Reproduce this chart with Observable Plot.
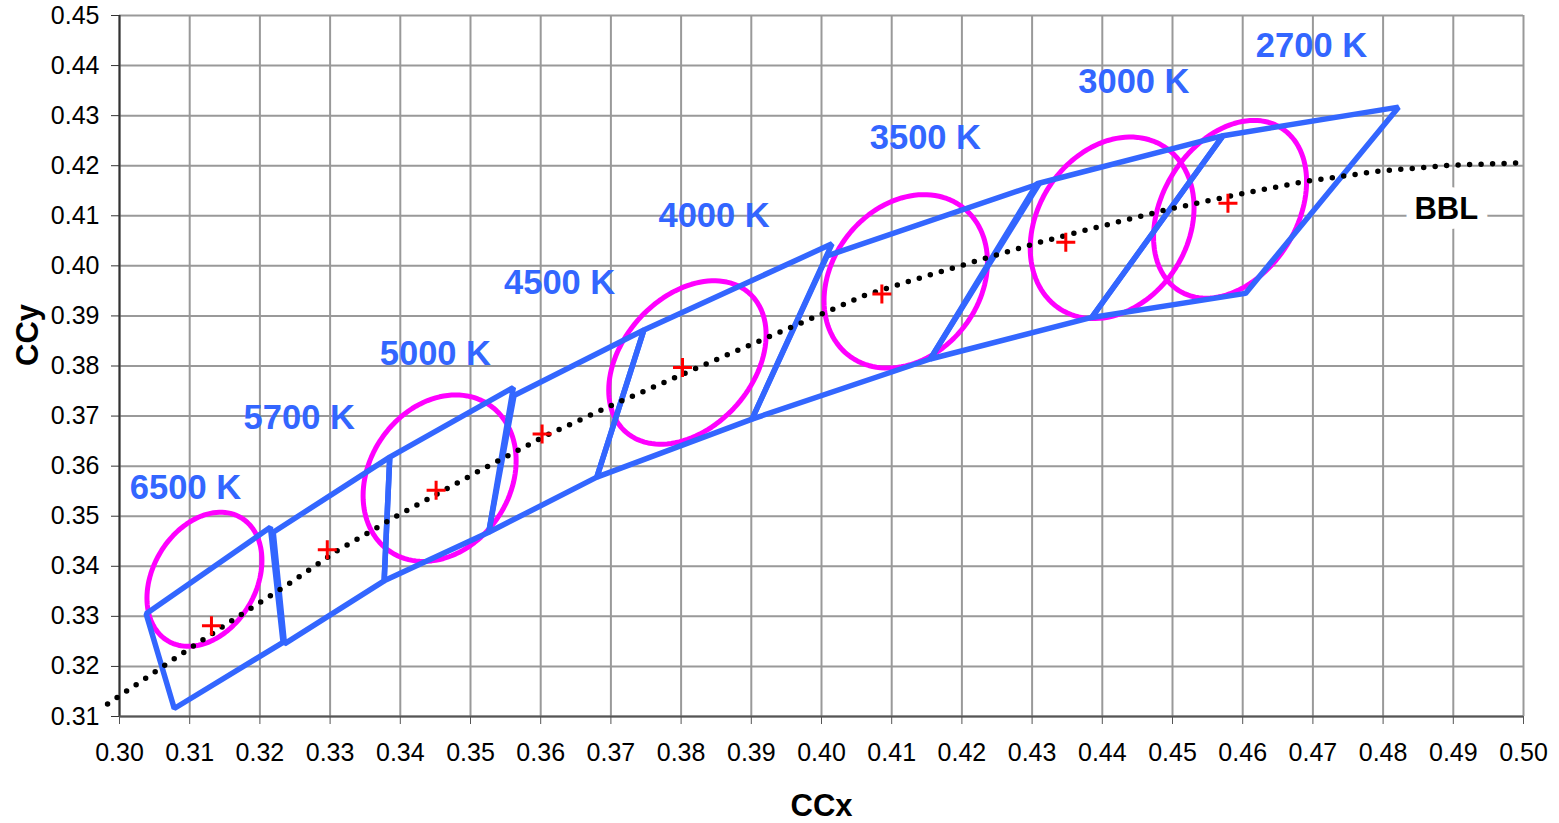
<!DOCTYPE html>
<html>
<head>
<meta charset="utf-8">
<script src="https://cdn.jsdelivr.net/npm/d3@7"></script>
<script src="https://cdn.jsdelivr.net/npm/@observablehq/plot@0.6"></script>
<style>
  html, body { margin: 0; padding: 0; background: #fff; }
  #chart { width: 1559px; height: 823px; }
</style>
</head>
<body>
<div id="chart"></div>
<script>
// ---- Tick labels ----
const xTicks = [0.30,0.31,0.32,0.33,0.34,0.35,0.36,0.37,0.38,0.39,0.40,0.41,0.42,0.43,0.44,0.45,0.46,0.47,0.48,0.49,0.50];
const yTicks = [0.31,0.32,0.33,0.34,0.35,0.36,0.37,0.38,0.39,0.40,0.41,0.42,0.43,0.44,0.45];

// ---- CCT categories (quadrangles) ----
const cctNames = ["6500 K","5700 K","5000 K","4500 K","4000 K","3500 K","3000 K","2700 K"];
// quadrangle corners (CCx, CCy)
const quadX = [
  [0.3038, 0.3215, 0.3233, 0.3078],
  [0.3219, 0.3385, 0.3377, 0.3235],
  [0.3385, 0.3561, 0.3526, 0.3377],
  [0.3562, 0.3747, 0.3680, 0.3526],
  [0.3747, 0.4015, 0.3901, 0.3680],
  [0.4008, 0.4310, 0.4155, 0.3901],
  [0.4307, 0.4572, 0.4385, 0.4155],
  [0.4572, 0.4822, 0.4604, 0.4385]
];
const quadY = [
  [0.3305, 0.3478, 0.3248, 0.3116],
  [0.3468, 0.3618, 0.3371, 0.3245],
  [0.3618, 0.3757, 0.3468, 0.3371],
  [0.3741, 0.3872, 0.3578, 0.3468],
  [0.3872, 0.4044, 0.3694, 0.3578],
  [0.4020, 0.4164, 0.3814, 0.3694],
  [0.4164, 0.4260, 0.3897, 0.3814],
  [0.4260, 0.4317, 0.3945, 0.3897]
];
// nominal centre points (red crosses)
const centerX = [0.3131, 0.3296, 0.3451, 0.3602, 0.3802, 0.4086, 0.4348, 0.4579];
const centerY = [0.3281, 0.3433, 0.3552, 0.3664, 0.3797, 0.3944, 0.4047, 0.4125];
// label anchors (CCx, CCy)
const labelX = [0.3094, 0.3256, 0.3450, 0.3627, 0.3847, 0.4148, 0.4445, 0.4698];
const labelY = [0.3556, 0.3696, 0.3824, 0.3965, 0.4100, 0.4256, 0.4368, 0.4440];

// ---- MacAdam-type ellipses ----
const ellNames = ["6500 K","5000 K","4000 K","3500 K","3000 K","2700 K"];
const ellCx   = [0.3121, 0.3456, 0.3809, 0.4120, 0.4414, 0.4582];
const ellCy   = [0.3374, 0.3576, 0.3807, 0.3969, 0.4076, 0.4113];
const ellHx   = [0.00819, 0.01090, 0.01121, 0.01164, 0.01167, 0.01090]; // half width in x
const ellHy   = [0.01339, 0.01662, 0.01632, 0.01732, 0.01813, 0.01775]; // half height in y
const ellXTop = [0.3144, 0.3479, 0.3847, 0.4146, 0.4440, 0.4616];       // x of topmost point

// ---- Black body locus (dotted) ----
const bblX = [0.2983,0.3081,0.3167,0.3237,0.3309,0.3397,0.3517,0.3609,0.3702,0.3811,0.3890,0.3984,0.4063,0.4143,0.4226,0.4308,0.4392,0.4491,0.4591,0.4691,0.4793,0.4896,0.5000];
const bblY = [0.3125,0.3218,0.3298,0.3361,0.3430,0.3502,0.3594,0.3662,0.3722,0.3789,0.3837,0.3894,0.3942,0.3977,0.4012,0.4046,0.4077,0.4112,0.4142,0.4169,0.4189,0.4201,0.4206];

// ---- build tables ----
const quads = [];
cctNames.forEach((n, i) => quadX[i].forEach((x, j) => quads.push({name: n, x, y: quadY[i][j]})));
const centers = cctNames.map((n, i) => ({name: n, x: centerX[i], y: centerY[i]}));
const labels = cctNames.map((n, i) => ({name: n, x: labelX[i], y: labelY[i]}));
const bbl = bblX.map((x, i) => ({x, y: bblY[i]}));
const ellipses = [];
ellNames.forEach((n, i) => {
  const phi = Math.acos((ellXTop[i] - ellCx[i]) / ellHx[i]);
  for (let k = 0; k < 120; k++) {
    const t = (k / 120) * 2 * Math.PI;
    ellipses.push({name: n, x: ellCx[i] + ellHx[i] * Math.cos(t), y: ellCy[i] + ellHy[i] * Math.cos(t - phi)});
  }
});

const crossSymbol = {
  draw(context, size) {
    const r = Math.sqrt(size / Math.PI);
    context.moveTo(-r, 0); context.lineTo(r, 0);
    context.moveTo(0, -r); context.lineTo(0, r);
  }
};

const BLUE = "#3366ff";
const FONT = "'Liberation Sans', Arial, Helvetica, sans-serif";
const fmt = d3.format(".2f");

const chart = Plot.plot({
  width: 1559,
  height: 823,
  marginLeft: 119,
  marginRight: 36,
  marginTop: 15,
  marginBottom: 107,
  x: {domain: [0.30, 0.50]},
  y: {domain: [0.31, 0.45]},
  style: {fontFamily: FONT, fontSize: "25px", background: "white", color: "black"},
  marks: [
    Plot.gridX(xTicks, {stroke: "#999", strokeOpacity: 1, strokeWidth: 2}),
    Plot.gridY(yTicks, {stroke: "#999", strokeOpacity: 1, strokeWidth: 2}),
    Plot.ruleX([0.30], {stroke: "#333", strokeWidth: 2}),
    Plot.ruleY([0.31], {stroke: "#555", strokeWidth: 2}),
    Plot.axisX(xTicks, {tickFormat: fmt, tickSize: 8, tickPadding: 19, fontSize: 25, stroke: "#555", label: null}),
    Plot.axisY(yTicks, {tickFormat: fmt, tickSize: 8, tickPadding: 12, fontSize: 25, stroke: "#333", label: null}),
    Plot.line(ellipses, {x: "x", y: "y", z: "name", curve: "linear-closed", stroke: "#ff00ff", strokeWidth: 5}),
    Plot.line(quads, {x: "x", y: "y", z: "name", curve: "linear-closed", stroke: BLUE, strokeWidth: 5.5, strokeLinejoin: "miter"}),
    Plot.line(bbl, {x: "x", y: "y", stroke: "black", strokeWidth: 5.5, strokeDasharray: "0 11.5", strokeLinecap: "round"}),
    Plot.dot(centers, {x: "x", y: "y", symbol: crossSymbol, r: 9.5, stroke: "#ff0000", strokeWidth: 3, fill: "none"}),
    Plot.text(labels, {x: "x", y: "y", text: "name", fill: BLUE, fontWeight: "bold", fontSize: 34.5}),
    Plot.text(["BBL"], {x: 0.4890, y: 0.4114, fill: "black", stroke: "white", strokeWidth: 20, fontWeight: "bold", fontSize: 31}),
    Plot.text(["CCx"], {frameAnchor: "bottom", dy: 99, fill: "black", fontWeight: "bold", fontSize: 31}),
    Plot.text(["CCy"], {frameAnchor: "left", dx: -91, rotate: -90, fill: "black", fontWeight: "bold", fontSize: 31})
  ]
});
document.getElementById("chart").appendChild(chart);
</script>
</body>
</html>
